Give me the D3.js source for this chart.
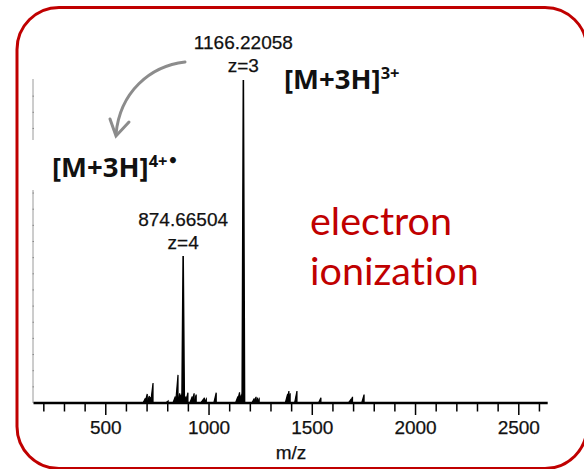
<!DOCTYPE html>
<html>
<head>
<meta charset="utf-8">
<script src="https://cdn.jsdelivr.net/npm/d3@7"></script>
<style>
  html, body { margin: 0; padding: 0; background: #fff; }
  svg { display: block; }
  text { font-variant-ligatures: none; }
</style>
</head>
<body>
<script>
// Spectrum peaks: m/z and relative intensity (% of base peak)
const peakMz = [686, 695, 705, 712, 723, 796, 831, 844, 852, 858, 865, 874.66504, 883, 892,
  913, 922, 932, 965, 972, 981, 1029, 1134, 1142, 1150, 1156, 1166.22058, 1213, 1222, 1230, 1237,
  1375, 1381, 1387, 1420, 1536, 1680, 1689, 1745];
const peakInt = [1.5, 2.8, 2.2, 1.8, 6.2, 0.6, 2.0, 8.7, 3.0, 2.6, 3.0, 45.5, 2.0, 3.2,
  2.0, 3.0, 2.6, 1.0, 1.6, 1.2, 3.2, 2.0, 3.3, 2.6, 3.0, 100, 1.4, 1.9, 1.6, 1.2,
  2.8, 3.7, 3.0, 3.7, 1.6, 1.0, 1.9, 2.6];

// Axis ticks
const xTicks = d3.range(200, 2601, 100);
const xTickLabels = [500, 1000, 1500, 2000, 2500];
const yTicks = d3.range(5, 100, 5);

// Annotations
const peakLabels = [
  { mz: 1166.22058, text: "1166.22058", z: "z=3" },
  { mz: 874.66504, text: "874.66504", z: "z=4" }
];
const ionLabels = [
  { text: "[M+3H]", sup: "3+", radical: "" },
  { text: "[M+3H]", sup: "4+", radical: "•" }
];
const methodLines = ["electron", "ionization"];
const axisTitle = "m/z";

const W = 584, H = 469;
const svg = d3.select("body").append("svg").attr("width", W).attr("height", H);

const x = d3.scaleLinear().domain([150, 2640]).range([33.5, 547.7]);
const y = d3.scaleLinear().domain([0, 100]).range([403, 80]);

const sans = "'Liberation Sans', Arial, sans-serif";
const labelFont = "'Open Sans', Lato, sans-serif";

// Rounded red frame
svg.append("rect")
  .attr("x", 17).attr("y", 7.5).attr("width", 570).attr("height", 461)
  .attr("rx", 42).attr("ry", 42)
  .attr("fill", "none").attr("stroke", "#c00000").attr("stroke-width", 3);

// Faint intensity axis with small ticks
const yAxis = svg.append("g").attr("transform", "translate(33,0)");
yAxis.append("line").attr("x1", 0).attr("x2", 0).attr("y1", 79).attr("y2", 403)
  .attr("stroke", "#9a9a9a").attr("stroke-width", 1);
yAxis.selectAll("line.t").data(yTicks).join("line").attr("class", "t")
  .attr("x1", -0.5).attr("x2", 1).attr("y1", d => y(d)).attr("y2", d => y(d))
  .attr("stroke", "#8a8a8a").attr("stroke-width", 1);

// Spectrum peaks
svg.append("g").selectAll("path").data(peakMz).join("path")
  .attr("d", (d, i) => {
    const h = peakInt[i];
    const lean = h > 20 ? 0 : 1.2;
    return `M${x(d) - 1.2},${y(0)} L${x(d) + lean},${y(h)} L${x(d) + 1.2},${y(0)}`;
  })
  .attr("fill", "#000").attr("stroke", "#000")
  .attr("stroke-width", (d, i) => peakInt[i] > 20 ? 1.6 : 1.2)
  .attr("stroke-linejoin", "miter");

// m/z axis
const xAxis = svg.append("g").attr("transform", `translate(0,${y(0)})`);
xAxis.append("line").attr("x1", x.range()[0]).attr("x2", x.range()[1])
  .attr("stroke", "#000").attr("stroke-width", 2.6);
xAxis.selectAll("line.t").data(xTicks).join("line").attr("class", "t")
  .attr("x1", d => x(d)).attr("x2", d => x(d))
  .attr("y1", 0).attr("y2", d => xTickLabels.includes(d) ? 12 : 8.5)
  .attr("stroke", "#000").attr("stroke-width", 1.5);
xAxis.selectAll("text").data(xTickLabels).join("text")
  .attr("x", d => x(d)).attr("y", 31)
  .attr("text-anchor", "middle")
  .attr("font-family", sans)
  .attr("font-size", 19).attr("fill", "#111")
  .attr("stroke", "#111").attr("stroke-width", 0.25)
  .text(d => d);
svg.append("text").attr("x", 291).attr("y", 459).attr("text-anchor", "middle")
  .attr("font-family", sans)
  .attr("font-size", 19).attr("fill", "#111")
  .attr("stroke", "#111").attr("stroke-width", 0.25).text(axisTitle);

// Peak annotations
const labelPos = [{ y1: 49, y2: 72 }, { y1: 226, y2: 249 }];
peakLabels.forEach((p, i) => {
  const g = svg.append("g")
    .attr("font-family", sans)
    .attr("font-size", 19).attr("fill", "#111").attr("text-anchor", "middle")
    .attr("stroke", "#111").attr("stroke-width", 0.25);
  g.append("text").attr("x", x(p.mz)).attr("y", labelPos[i].y1).text(p.text);
  g.append("text").attr("x", x(p.mz)).attr("y", labelPos[i].y2).text(p.z);
});

// Ion labels
const ionPos = [{ x: 284, y: 89 }, { x: 52, y: 177 }];
svg.append("rect").attr("x", 28).attr("y", 140).attr("width", 160).attr("height", 50).attr("fill", "#fff");
ionLabels.forEach((l, i) => {
  const t = svg.append("text").attr("x", ionPos[i].x).attr("y", ionPos[i].y)
    .attr("font-family", labelFont).attr("font-weight", "bold")
    .attr("font-size", 27.5).attr("fill", "#111")
    .attr("textLength", null);
  t.append("tspan").text(l.text);
  t.append("tspan").attr("font-size", 16.5).attr("dy", -10).text(l.sup);
  if (l.radical) {
    t.append("tspan").attr("font-family", "'DejaVu Sans', sans-serif")
      .attr("font-size", 17).text(l.radical);
  }
});

// Curved arrow from the 3+ label towards the 4+• label
const arrow = svg.append("g").attr("fill", "none").attr("stroke", "#8c8c8c")
  .attr("stroke-width", 3).attr("stroke-linecap", "round");
arrow.append("path").attr("d", "M185,62 C150,66 120,92 116,134");
arrow.append("path").attr("d", "M110,119 L116,136 L129,122");

// Method text
svg.append("g").attr("font-family", "Lato, 'Open Sans', sans-serif")
  .attr("font-size", 39.5).attr("fill", "#c00000")
  .selectAll("text").data(methodLines).join("text")
  .attr("x", 310).attr("y", (d, i) => 235 + i * 50)
  .text(d => d);
</script>
</body>
</html>
